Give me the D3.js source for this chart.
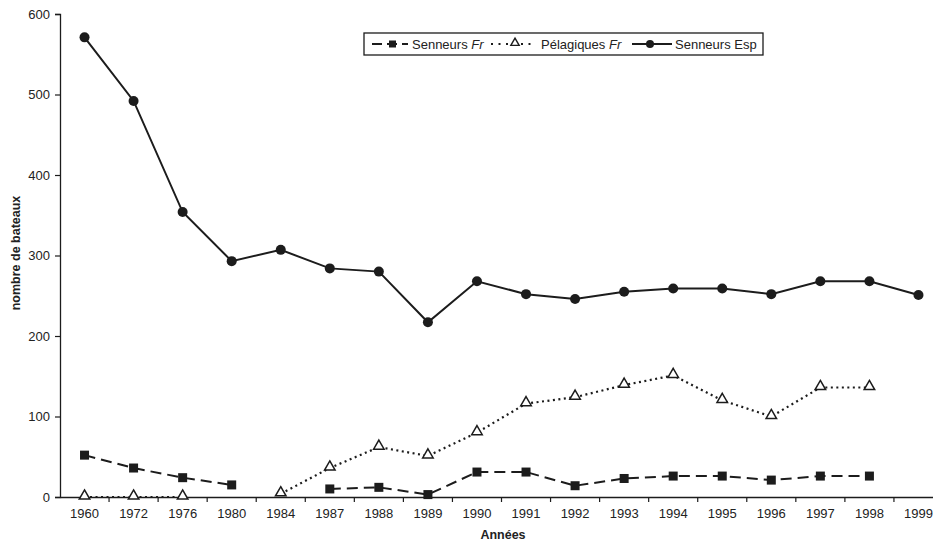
<!DOCTYPE html>
<html><head><meta charset="utf-8">
<script src="https://cdn.jsdelivr.net/npm/d3@7"></script>
<style>
html,body{margin:0;padding:0;background:#fff;}
svg{display:block;font-family:"Liberation Sans",Arial,sans-serif;}
</style></head>
<body><svg id="c" width="933" height="541"></svg>
<script>
const years = ["1960","1972","1976","1980","1984","1987","1988","1989","1990","1991","1992","1993","1994","1995","1996","1997","1998","1999"];
const senneursFr = [52,36,24,15,null,10,12,3,31,31,14,23,26,26,21,26,26,null];
const pelagiquesFr = [0,0,0,null,4,36,62,51,80,116,124,139,151,120,100,136,136,null];
const senneursEsp = [571,492,354,293,307,284,280,217,268,252,246,255,259,259,252,268,268,251];
const yTicks = [0,100,200,300,400,500,600];
const seriesNames = ["Senneurs", "Pélagiques", "Senneurs"];
const seriesSuffix = ["Fr", "Fr", "Esp"];

const svg = d3.select("#c");
const ink = "#1c1c1c";
const x = d3.scaleBand().domain(years).range([60, 943]).padding(0);
const y = d3.scaleLinear().domain([0, 600]).range([497, 14]);
const cx = d => x(d) + x.bandwidth() / 2;

// Y axis
const ya = svg.append("g").attr("transform", "translate(60,0)")
  .call(d3.axisLeft(y).tickValues(yTicks).tickSize(5).tickPadding(5).tickFormat(d3.format("d")));
ya.select(".domain").attr("stroke", ink).attr("stroke-width", 1.3);
ya.selectAll(".tick line").attr("stroke", ink).attr("stroke-width", 1.2);
ya.selectAll("text").attr("font-size", 13).attr("fill", "#222").attr("font-family", "Liberation Sans, Arial, sans-serif");

// X axis
const xa = svg.append("g").attr("transform", "translate(0,497)")
  .call(d3.axisBottom(x).tickSize(0).tickPadding(12));
xa.select(".domain").attr("stroke", ink).attr("stroke-width", 1.3);
xa.selectAll("text").attr("font-size", 13).attr("fill", "#222").attr("font-family", "Liberation Sans, Arial, sans-serif");
svg.append("g").selectAll("line").data(years.slice(1)).join("line")
  .attr("x1", d => x(d)).attr("x2", d => x(d)).attr("y1", 497).attr("y2", 502)
  .attr("stroke", ink).attr("stroke-width", 1.2);

// Axis titles
svg.append("text").attr("transform", "translate(20,253) rotate(-90)")
  .attr("text-anchor", "middle").attr("font-size", 12.5).attr("font-weight", "bold").attr("fill", "#222")
  .text("nombre de bateaux");
svg.append("text").attr("x", 503).attr("y", 539)
  .attr("text-anchor", "middle").attr("font-size", 12.5).attr("font-weight", "bold").attr("fill", "#222")
  .text("Années");

function series(vals) { return years.map((yr, i) => ({ yr, v: vals[i] })); }
const line = d3.line().defined(d => d.v !== null).x(d => cx(d.yr)).y(d => y(d.v));

// Pelagiques Fr (dotted, open triangles)
const pel = series(pelagiquesFr);
svg.append("path").datum(pel).attr("d", line).attr("fill", "none")
  .attr("stroke", ink).attr("stroke-width", 2.2).attr("stroke-dasharray", "2,3.5");
const tri = d3.symbol().type(d3.symbolTriangle).size(48);
svg.append("g").selectAll("path").data(pel.filter(d => d.v !== null)).join("path")
  .attr("d", tri).attr("transform", d => `translate(${cx(d.yr)},${y(d.v) - 1})`)
  .attr("fill", "#fff").attr("stroke", ink).attr("stroke-width", 1.5);

// Senneurs Fr (dashed, squares)
const sfr = series(senneursFr);
svg.append("path").datum(sfr).attr("d", line).attr("fill", "none")
  .attr("stroke", ink).attr("stroke-width", 2).attr("stroke-dasharray", "11,6");
svg.append("g").selectAll("rect").data(sfr.filter(d => d.v !== null)).join("rect")
  .attr("x", d => cx(d.yr) - 4.5).attr("y", d => y(d.v) - 4.5)
  .attr("width", 9).attr("height", 9).attr("fill", ink);

// Senneurs Esp (solid, circles)
const sesp = series(senneursEsp);
svg.append("path").datum(sesp).attr("d", line).attr("fill", "none")
  .attr("stroke", ink).attr("stroke-width", 2);
svg.append("g").selectAll("circle").data(sesp).join("circle")
  .attr("cx", d => cx(d.yr)).attr("cy", d => y(d.v)).attr("r", 5).attr("fill", ink);

// Legend
const lg = svg.append("g");
lg.append("rect").attr("x", 364).attr("y", 33).attr("width", 399).attr("height", 22)
  .attr("fill", "#fff").attr("stroke", ink).attr("stroke-width", 1.3);
// item 1
lg.append("line").attr("x1", 372).attr("x2", 408).attr("y1", 44).attr("y2", 44)
  .attr("stroke", ink).attr("stroke-width", 2).attr("stroke-dasharray", "10,5");
lg.append("rect").attr("x", 389).attr("y", 40.5).attr("width", 7).attr("height", 7).attr("fill", ink);
// item 2
lg.append("line").attr("x1", 491).attr("x2", 536).attr("y1", 44).attr("y2", 44)
  .attr("stroke", ink).attr("stroke-width", 2).attr("stroke-dasharray", "2,5.5");
lg.append("path").attr("d", d3.symbol().type(d3.symbolTriangle).size(30))
  .attr("transform", "translate(515,43)").attr("fill", "#fff").attr("stroke", ink).attr("stroke-width", 1.4);
// item 3
lg.append("line").attr("x1", 632).attr("x2", 672).attr("y1", 44).attr("y2", 44)
  .attr("stroke", ink).attr("stroke-width", 2);
lg.append("circle").attr("cx", 650).attr("cy", 44).attr("r", 4).attr("fill", ink);

const labelX = [412, 541, 675];
labelX.forEach((lx, i) => {
  const t = lg.append("text").attr("x", lx).attr("y", 48.5).attr("font-size", 13).attr("fill", "#222");
  t.append("tspan").text(seriesNames[i] + " ");
  t.append("tspan").attr("font-style", i < 2 ? "italic" : "normal").text(seriesSuffix[i]);
});
</script></body></html>
